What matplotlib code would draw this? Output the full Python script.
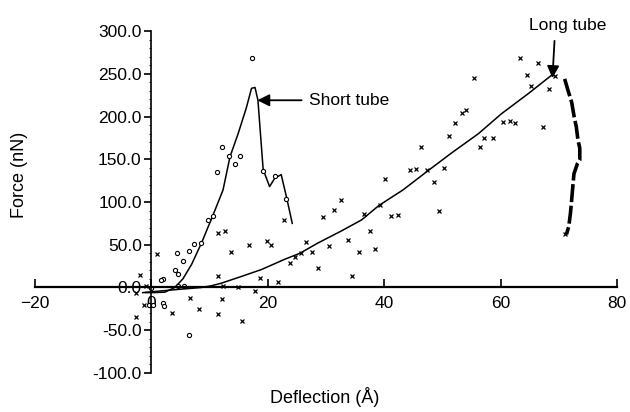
import matplotlib
matplotlib.use('Agg')
import matplotlib.pyplot as plt
from matplotlib.ticker import FormatStrFormatter, MultipleLocator

plt.rcParams['font.family'] = ['Liberation Sans', 'DejaVu Sans']

# short tube fitted curve
short_line_x = [-1, 0.3, 2.3, 4.0, 5.4, 6.9, 8.6, 10.6, 12.3, 13.5, 14.9, 16.3, 17.2, 17.8, 18.3, 18.9, 19.2, 20.3, 21.2, 22.3, 23.2, 24.2]
short_line_y = [-6, -6, -5.5, 0, 10, 27, 52, 85, 114, 153, 180, 210, 233, 234, 219, 165, 138, 118, 128, 132, 106, 75]

# short tube measurements (open circles)
short_pts_x = [17.2, 12.2, 13.3, 15.3, 14.3, 11.3, 19.2, 21.3, 23.2, 9.7, 10.5, 8.6, 7.3, 6.5, 4.4, 5.4, 4.0, 4.6,
               2.0, 1.6, 0.0, 4.6, 5.6, -0.4, 0.3, 2.0, 2.2, 6.5]
short_pts_y = [268, 164, 154, 154, 144, 135, 136, 130, 104, 79, 84, 52, 51, 43, 40, 31, 20, 16,
               10, 8.5, -1, 2, 1.5, -21, -21, -18, -22, -55]

# long tube fitted curve
long_line_x = [-1.5, 1.7, 5, 8.6, 10.3, 12, 15.5, 18.9, 22.9, 25.5, 28.6, 32.6, 36.1, 39.1, 43.2, 47.6, 51.5, 56.2, 60.1, 64.8, 68.7]
long_line_y = [-6, -4, -2, 0, 2, 5, 13, 21, 33, 40, 52, 66, 79, 96, 114, 137, 157, 180, 203, 227, 248]

# long tube retraction branch
retract_x = [71.0, 71.6, 72.2, 72.6, 73.0, 73.3, 73.6, 73.6, 73.2, 72.6, 72.4, 72.2, 72.0, 71.7, 71.3]
retract_y = [244, 230, 217, 201, 188, 172, 163, 149, 145, 133, 118, 102, 87, 71, 62]

# long tube measurements (crosses)
long_pts_x = [0.9, -2, -0.9, -2.6, -1.2, -2.6, 3.6, 8.1, 6.7, 11.5, 12.2, 15.6, 11.5, 12.6, 13.7, 16.7, 19.8, 20.6,
              11.5, 18.6, 21.8, 12.3, 14.8, 17.8, 26.5, 27.6, 23.8, 24.6, 25.7, 28.6, 22.8, 29.4, 31.4, 32.6,
              36.5, 41.2, 42.4, 49.4, 37.5, 33.7, 30.5, 35.7, 38.5, 34.5, 40.2, 44.4, 45.4, 47.4, 50.3, 48.5,
              46.4, 51.2, 52.2, 53.3, 54.1, 55.4, 56.5, 57.1, 58.7, 60.4, 61.6, 62.4, 63.3, 66.4, 64.6, 65.3,
              68.3, 67.3, 69.4, 71.0, 39.2]
long_pts_y = [39, 15, 2.3, -7, -21, -35, -30, -25, -12, -31, -13, -39, 64, 66, 41, 50, 54, 50,
              13, 11, 6, 1.5, 1, -4, 53, 41, 29, 36, 40, 23, 79, 83, 91, 102,
              86, 84, 85, 89, 66, 56, 48, 41, 45, 13, 127, 138, 139, 137, 140, 123,
              164, 177, 192, 204, 208, 245, 164, 175, 175, 193, 195, 192, 268, 263, 249, 236,
              232, 188, 247, 62, 97]

fig = plt.figure(figsize=(6.3, 4.12), dpi=100)
ax = fig.add_axes([0.0556, 0.0947, 0.9238, 0.830])

ax.plot(short_line_x, short_line_y, color='black', linewidth=1.1)
ax.plot(long_line_x, long_line_y, color='black', linewidth=1.1)
ax.plot(retract_x, retract_y, color='black', linewidth=2.6, dashes=(5, 1))
ax.plot(short_pts_x, short_pts_y, 'o', markersize=3, markerfacecolor='white', markeredgecolor='black',
        markeredgewidth=0.8, linestyle='none')
ax.plot(long_pts_x, long_pts_y, 'x', markersize=3.5, color='black', markeredgewidth=0.9, linestyle='none')

ax.set_xlim(-20, 80)
ax.set_ylim(-100, 300)
ax.spines['left'].set_position(('data', 0))
ax.spines['bottom'].set_position(('data', 0))
ax.spines['top'].set_visible(False)
ax.spines['right'].set_visible(False)
ax.spines['left'].set_linewidth(1.2)
ax.spines['bottom'].set_linewidth(1.6)

ax.set_xticks([-20, 0, 20, 40, 60, 80])
ax.set_yticks([-100, -50, 0, 50, 100, 150, 200, 250, 300])
ax.yaxis.set_major_formatter(FormatStrFormatter('%.1f'))
ax.yaxis.set_minor_locator(MultipleLocator(10))
ax.tick_params(axis='x', direction='in', length=6, width=1.2, labelsize=12.5, pad=6)
ax.tick_params(axis='y', direction='out', length=5, width=1.2, labelsize=12.5, pad=2)
ax.tick_params(axis='y', which='minor', direction='out', length=1.5, width=0.6)

ax.annotate('Short tube', xy=(18.2, 219), xytext=(27, 219), fontsize=12.5, va='center', ha='left',
            arrowprops=dict(arrowstyle='-|>', color='black', lw=1.3, mutation_scale=18, shrinkA=3, shrinkB=0))
ax.annotate('Long tube', xy=(68.9, 245), xytext=(71.6, 307), fontsize=12.5, va='center', ha='center',
            annotation_clip=False,
            arrowprops=dict(arrowstyle='-|>', color='black', lw=1.3, mutation_scale=18, shrinkA=4, shrinkB=0,
                            relpos=(0.33, 0)))

fig.text(20 / 630, 1 - 175 / 412, 'Force (nN)', rotation=90, fontsize=13, ha='center', va='center')
fig.text(325 / 630, 1 - 397 / 412, 'Deflection (Å)', fontsize=13, ha='center', va='center')

fig.savefig('out.png', dpi=100)
